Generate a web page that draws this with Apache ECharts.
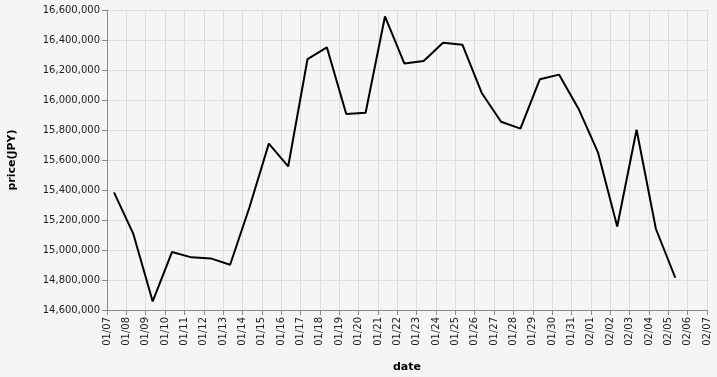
<!DOCTYPE html>
<html>
<head>
<meta charset="utf-8">
<script src="https://cdn.jsdelivr.net/npm/echarts@6/dist/echarts.min.js"></script>
<style>
html,body{margin:0;padding:0;background:#f5f5f5;}
#c{width:717px;height:377px;}
</style>
</head>
<body>
<div id="c"></div>
<script>
const dates = ['01/07','01/08','01/09','01/10','01/11','01/12','01/13','01/14','01/15','01/16',
  '01/17','01/18','01/19','01/20','01/21','01/22','01/23','01/24','01/25','01/26',
  '01/27','01/28','01/29','01/30','01/31','02/01','02/02','02/03','02/04','02/05'];
const prices = [15384000,15107000,14657000,14987000,14951000,14944000,14902000,15285000,15709000,15557000,
  16273000,16351000,15907000,15915000,16557000,16244000,16260000,16382000,16369000,16047000,
  15855000,15809000,16138000,16169000,15942000,15653000,15157000,15802000,15140000,14815000];
const sampleTime = '08:40';
const yTicks = {min:14600000, max:16600000, step:200000};
const xRange = {start:'01/07', end:'02/07'};
const year = 2024;

const DAY = 86400000;
function ts(md, hm){
  const [m,d] = md.split('/').map(Number);
  const [h,mi] = (hm||'00:00').split(':').map(Number);
  return Date.UTC(year, m-1, d, h, mi);
}
const seriesData = dates.map((d,i)=>[ts(d,sampleTime), prices[i]]);
function fmtDate(v){
  const dt = new Date(v);
  const mm = String(dt.getUTCMonth()+1).padStart(2,'0');
  const dd = String(dt.getUTCDate()).padStart(2,'0');
  return mm+'/'+dd;
}
const font = 'DejaVu Sans';
const chart = echarts.init(document.getElementById('c'));
chart.setOption({
  backgroundColor:'#f5f5f5',
  animation:false,
  textStyle:{fontFamily:font},
  grid:{left:107,right:10,top:10,bottom:67,containLabel:false,outerBoundsMode:'none'},
  xAxis:{
    type:'value',
    min:ts(xRange.start), max:ts(xRange.end), interval:DAY,
    name:'date', nameLocation:'middle', nameGap:52,
    nameTextStyle:{fontFamily:font,fontWeight:'bold',fontSize:11,color:'#000'},
    axisLine:{show:true,lineStyle:{color:'#888',width:1}},
    axisTick:{show:true,length:5,lineStyle:{color:'#888'}},
    axisLabel:{rotate:90,fontSize:10,color:'#222',fontFamily:font,margin:7,formatter:fmtDate,showMinLabel:true,showMaxLabel:true},
    splitLine:{show:true,lineStyle:{color:'#ddd',width:1}}
  },
  yAxis:{
    type:'value',
    min:yTicks.min, max:yTicks.max, interval:yTicks.step,
    name:'price(JPY)', nameLocation:'middle', nameGap:89,
    nameTextStyle:{fontFamily:font,fontWeight:'bold',fontSize:11,color:'#000'},
    axisLine:{show:true,lineStyle:{color:'#888',width:1}},
    axisTick:{show:true,length:5,lineStyle:{color:'#888'}},
    axisLabel:{fontSize:10,color:'#222',fontFamily:font,margin:7,
      formatter:v=>v.toLocaleString('en-US')},
    splitLine:{show:true,lineStyle:{color:'#ddd',width:1}}
  },
  series:[{
    type:'line',
    data:seriesData,
    showSymbol:false,
    lineStyle:{color:'#000',width:2},
    itemStyle:{color:'#000'}
  }]
});
</script>
</body>
</html>
